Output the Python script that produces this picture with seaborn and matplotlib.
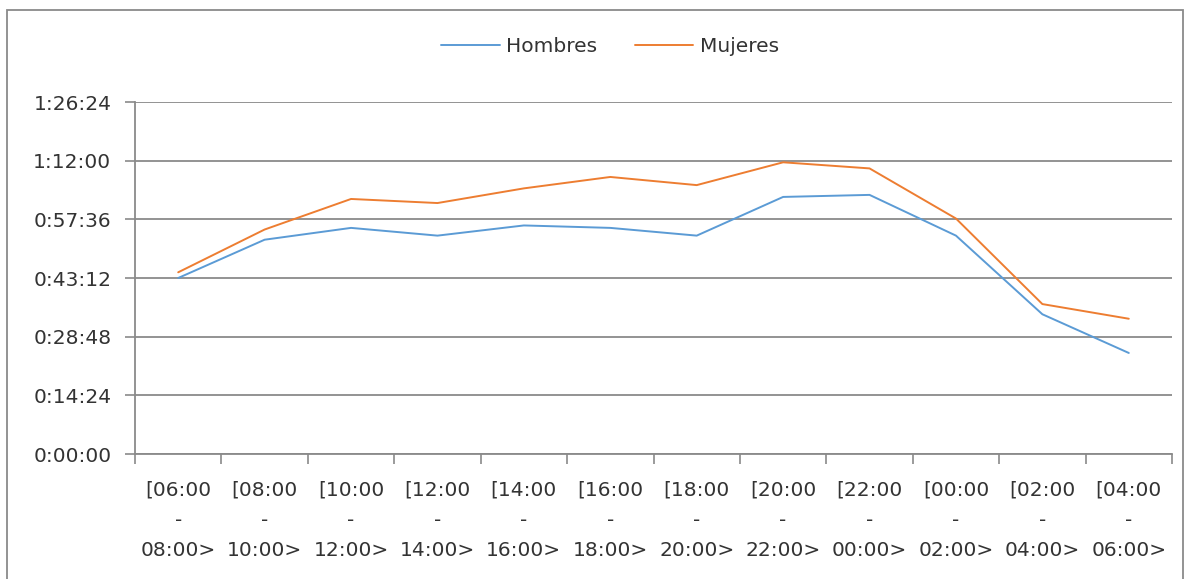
import numpy as np
import pandas as pd
import matplotlib
matplotlib.use("Agg")
import matplotlib.pyplot as plt
import seaborn as sns
from matplotlib.ticker import FixedLocator, FuncFormatter, NullFormatter
from matplotlib.patches import Rectangle

# data (minutes)
franjas = ["[06:00\n-\n08:00>", "[08:00\n-\n10:00>", "[10:00\n-\n12:00>", "[12:00\n-\n14:00>",
           "[14:00\n-\n16:00>", "[16:00\n-\n18:00>", "[18:00\n-\n20:00>", "[20:00\n-\n22:00>",
           "[22:00\n-\n00:00>", "[00:00\n-\n02:00>", "[02:00\n-\n04:00>", "[04:00\n-\n06:00>"]
hombres = [43.2, 52.6, 55.5, 53.6, 56.1, 55.5, 53.6, 63.1, 63.6, 53.6, 34.3, 24.8]
mujeres = [44.6, 55.1, 62.6, 61.6, 65.2, 68.0, 66.0, 71.6, 70.1, 57.8, 36.8, 33.2]

df = pd.DataFrame({
    "pos": list(range(len(franjas))) * 2,
    "minutos": hombres + mujeres,
    "sexo": ["Hombres"] * len(hombres) + ["Mujeres"] * len(mujeres),
})

sns.set_style("white")
plt.rcParams["font.family"] = ["DejaVu Sans"]
fs = 14.5

fig = plt.figure(figsize=(11.9, 5.79), dpi=100)
ax = fig.add_axes([135 / 1190, 1 - 454 / 579, (1172 - 135) / 1190, (454 - 102) / 579])

sns.lineplot(data=df, x="pos", y="minutos", hue="sexo",
             palette={"Hombres": "#5B9BD5", "Mujeres": "#ED7D31"},
             linewidth=1.4, ax=ax)

# y axis as h:mm:ss
def fmt_time(v, pos):
    s = int(round(v * 60))
    return f"{s // 3600}:{(s % 3600) // 60:02d}:{s % 60:02d}"

ax.set_ylim(0, 86.4)
ax.yaxis.set_major_locator(FixedLocator(np.arange(0, 86.41, 14.4)))
ax.yaxis.set_major_formatter(FuncFormatter(fmt_time))
ax.grid(axis="y", color="#8a8a8a", linewidth=1.3)
ax.set_axisbelow(True)

# x axis: ticks at boundaries, labels at centers
ax.set_xlim(-0.5, len(franjas) - 0.5)
ax.xaxis.set_major_locator(FixedLocator(np.arange(-0.5, len(franjas), 1.0)))
ax.xaxis.set_major_formatter(NullFormatter())
ax.xaxis.set_minor_locator(FixedLocator(np.arange(len(franjas))))
ax.set_xticklabels(franjas, minor=True, linespacing=1.75)
ax.tick_params(axis="x", which="major", length=7, width=1.2, color="#8a8a8a", direction="out", bottom=True)
ax.tick_params(axis="x", which="minor", length=0, pad=19, labelsize=fs, colors="#333333")
ax.tick_params(axis="y", length=7, width=1.2, color="#8a8a8a", direction="out", left=True,
               pad=10, labelsize=fs, labelcolor="#333333")

for s in ["top", "right"]:
    ax.spines[s].set_visible(False)
for s in ["left", "bottom"]:
    ax.spines[s].set_color("#8a8a8a")
    ax.spines[s].set_linewidth(1.3)

ax.set_xlabel("")
ax.set_ylabel("")

leg = ax.legend(loc="upper center", bbox_to_anchor=(0.458, 1.235), ncol=2, frameon=False,
                fontsize=fs, handlelength=2.9, handletextpad=0.3, columnspacing=1.9)
for t in leg.get_texts():
    t.set_color("#333333")

# chart border
fig.patches.append(Rectangle((7 / 1190, -0.01), 1176 / 1190, 1 - 10 / 579 + 0.01,
                             transform=fig.transFigure, fill=False,
                             edgecolor="#8a8a8a", linewidth=1.3))

fig.savefig("out.png", dpi=100)
